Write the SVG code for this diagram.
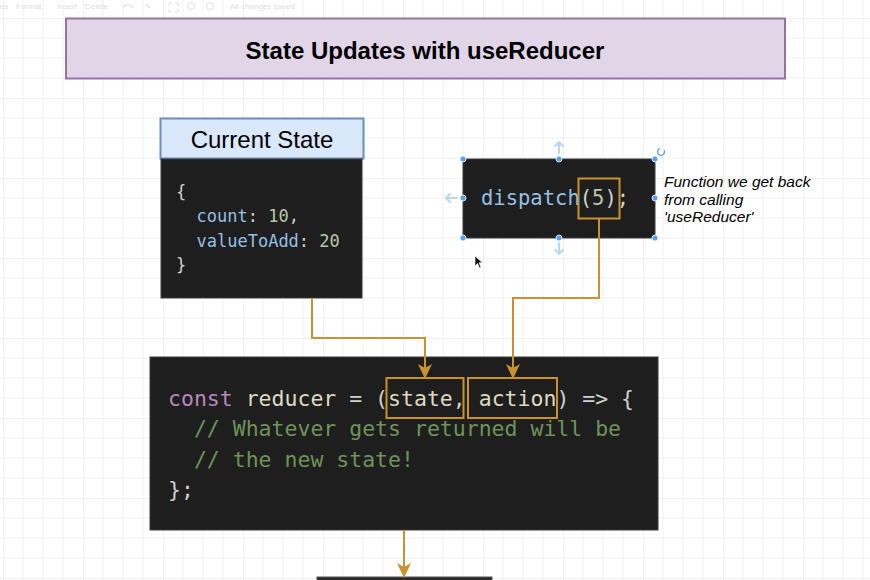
<svg xmlns="http://www.w3.org/2000/svg" width="870" height="580" viewBox="0 0 870 580">
  <defs>
    <pattern id="grid" patternUnits="userSpaceOnUse" x="3" y="18" width="80" height="80">
      <path d="M20,0V80M40,0V80M60,0V80M0,20H80M0,40H80M0,60H80" fill="none" stroke="#f1f1f1" stroke-width="1"/>
      <path d="M0,0V80M0,0H80" fill="none" stroke="#e4e4e4" stroke-width="1"/>
    </pattern>
    <marker id="arrow" viewBox="0 0 15 15" refX="14" refY="7.5" markerWidth="15" markerHeight="15" markerUnits="userSpaceOnUse" orient="auto">
      <path d="M0,0.5 L15,7.5 L0,14.5 L4,7.5 Z" fill="#c9922f"/>
    </marker>
    <style>
      .code { fill:#1e1e1e; stroke:#3c3c3c; stroke-width:1; }
      .mono { font-family:"DejaVu Sans Mono","Liberation Mono",monospace; }
      .sans { font-family:"Liberation Sans",Arial,sans-serif; }
      .hl { fill:none; stroke:#c9922f; stroke-width:2; }
      .conn { fill:none; stroke:#c9922f; stroke-width:2; marker-end:url(#arrow); }
      .kw { fill:#bb86bb; }
      .fn { fill:#dedac2; }
      .pn { fill:#d0d0d0; }
      .var { fill:#94c0e4; }
      .num { fill:#b8c8a4; }
      .cm { fill:#6e9358; }
      .handle { fill:#5aa0e6; stroke:#ffffff; stroke-width:0.8; }
      .ui { fill:#dedede; font-size:8px; }
      .hint { fill:none; stroke:#b9d7f3; stroke-width:2; stroke-linecap:round; stroke-linejoin:round; }
    </style>
  </defs>

  <rect x="0" y="0" width="870" height="580" fill="#ffffff"/>
  <rect x="0" y="0" width="870" height="580" fill="url(#grid)"/>

  <g id="toolbar">
    <text class="sans ui" x="0" y="9">es</text>
    <text class="sans ui" x="16" y="9">Format</text>
    <text class="sans ui" x="57" y="9">Insert</text>
    <text class="sans ui" x="85" y="9">Delete</text>
    <path d="M123,7 Q128,2 133,8 M146,4 L150,8" fill="none" stroke="#dedede" stroke-width="1.2"/>
    <path d="M169,3 V6 M169,3 H172 M178,3 H175 M178,3 V6 M169,12 V9 M169,12 H172 M178,12 H175 M178,12 V9" fill="none" stroke="#dedede" stroke-width="1"/>
    <circle cx="191" cy="6" r="3.5" fill="none" stroke="#dedede" stroke-width="1"/>
    <circle cx="210" cy="6" r="3.5" fill="none" stroke="#dedede" stroke-width="1"/>
    <text class="sans ui" x="230" y="9">All changes saved</text>
  </g>

  <g id="title">
    <rect x="66" y="18.5" width="719" height="60" fill="#e1d5e7" stroke="#9673a6" stroke-width="2"/>
    <text class="sans" x="425" y="59" text-anchor="middle" font-size="24" font-weight="bold" fill="#000">State Updates with useReducer</text>
  </g>

  <g id="current-state-header">
    <rect x="160.5" y="118.5" width="203" height="40" fill="#dae8fc" stroke="#6c8ebf" stroke-width="2"/>
    <text class="sans" x="262" y="148" text-anchor="middle" font-size="24" fill="#000">Current State</text>
  </g>

  <g id="current-state-code">
    <rect class="code" x="161" y="159" width="201" height="139"/>
    <text class="mono" font-size="17" xml:space="preserve">
      <tspan x="176" y="197.5" class="pn">{</tspan>
      <tspan x="196.5" y="222"><tspan class="var">count</tspan><tspan class="pn">: </tspan><tspan class="num">10</tspan><tspan class="pn">,</tspan></tspan>
      <tspan x="196.5" y="246.5"><tspan class="var">valueToAdd</tspan><tspan class="pn">: </tspan><tspan class="num">20</tspan></tspan>
      <tspan x="176" y="271" class="pn">}</tspan>
    </text>
  </g>

  <g id="dispatch">
    <rect class="code" x="463" y="159" width="192" height="79"/>
    <text class="mono" x="481" y="205" font-size="20.5" xml:space="preserve"><tspan class="var">dispatch</tspan><tspan class="pn">(</tspan><tspan class="num">5</tspan><tspan class="pn">);</tspan></text>
    <rect class="hl" x="578.5" y="178.5" width="41" height="40"/>
  </g>

  <g id="selection-handles">
    <path class="hint" d="M559,153 V142 M555,146 L559,142 L563,146"/>
    <path class="hint" d="M457,198 H446 M450,194 L446,198 L450,202"/>
    <path class="hint" d="M559,243 V254 M555,250 L559,254 L563,250"/>
    <path d="M664,150 A3.5,3.5 0 1 1 660,148.5" fill="none" stroke="#5aa0e6" stroke-width="1.3"/>
    <circle class="handle" cx="463" cy="159" r="3"/>
    <circle class="handle" cx="559" cy="159" r="3"/>
    <circle class="handle" cx="655" cy="159" r="3"/>
    <circle class="handle" cx="463" cy="198" r="3"/>
    <circle class="handle" cx="655" cy="198" r="3"/>
    <circle class="handle" cx="463" cy="238" r="3"/>
    <circle class="handle" cx="559" cy="238" r="3"/>
    <circle class="handle" cx="655" cy="238" r="3"/>
  </g>

  <g id="note">
    <text class="sans" font-size="15.5" font-style="italic" fill="#000">
      <tspan x="664" y="187">Function we get back</tspan>
      <tspan x="664" y="204.5">from calling</tspan>
      <tspan x="664" y="222">'useReducer'</tspan>
    </text>
  </g>

  <g id="reducer">
    <rect class="code" x="150" y="357" width="508" height="173"/>
    <text class="mono" font-size="21.5" xml:space="preserve">
      <tspan x="168" y="405.5"><tspan class="kw">const</tspan><tspan class="fn"> reducer </tspan><tspan class="pn">= (</tspan><tspan class="fn">state</tspan><tspan class="pn">, </tspan><tspan class="fn">action</tspan><tspan class="pn">) =&gt; {</tspan></tspan>
      <tspan x="168" y="436" class="cm">  // Whatever gets returned will be</tspan>
      <tspan x="168" y="466.5" class="cm">  // the new state!</tspan>
      <tspan x="168" y="497" class="pn">};</tspan>
    </text>
    <rect class="hl" x="386.5" y="378" width="77" height="40"/>
    <rect class="hl" x="468" y="378" width="89" height="40"/>
  </g>

  <g id="next-node">
    <rect x="317" y="577" width="175" height="12" fill="#2a2a2a" stroke="#555" stroke-width="1"/>
  </g>

  <g id="connectors">
    <path class="conn" d="M312,298 V338 H425 V378"/>
    <path class="conn" d="M599,219 V298 H513 V378"/>
    <path class="conn" d="M404,530 V577"/>
  </g>

  <g id="cursor">
    <path d="M475,256 L475,266 L477.5,263.5 L479.5,268 L481,267.3 L479,262.8 L482.5,262.8 Z" fill="#111" stroke="#fff" stroke-width="0.6"/>
  </g>
</svg>
